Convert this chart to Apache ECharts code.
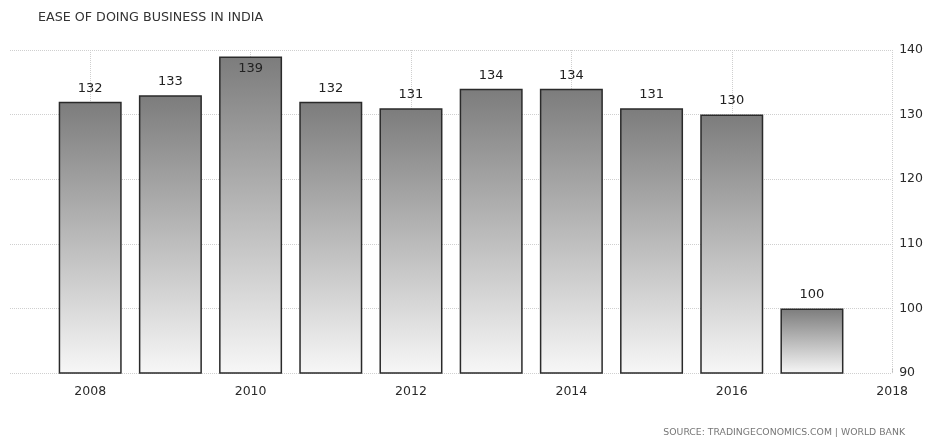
<!DOCTYPE html>
<html>
<head>
<meta charset="utf-8">
<script src="https://cdn.jsdelivr.net/npm/echarts@6/dist/echarts.min.js"></script>
<style>
  html, body { margin: 0; padding: 0; background: #fff; }
  #chart { width: 926px; height: 439px; }
</style>
</head>
<body>
<div id="chart"></div>
<script>
// Ease of Doing Business ranking for India, by year
const years = [2008, 2009, 2010, 2011, 2012, 2013, 2014, 2015, 2016, 2017];
const ranks = [132, 133, 139, 132, 131, 134, 134, 131, 130, 100];
const xTicks = [2008, 2010, 2012, 2014, 2016, 2018];

const FONT = '"DejaVu Sans", Verdana, sans-serif';
const gridColor = '#cfcfcf';

const chart = echarts.init(document.getElementById('chart'), null, { renderer: 'canvas' });

const data = years.map((y, i) => {
  const item = { value: [y, ranks[i]] };
  if (ranks[i] >= 138) {
    item.label = { position: 'insideTop', distance: 6 };
  }
  return item;
});

chart.setOption({
  animation: false,
  backgroundColor: '#fff',
  title: [
    {
      text: 'EASE OF DOING BUSINESS IN INDIA',
      left: 33, top: 6,
      textStyle: { fontFamily: FONT, fontSize: 12.7, fontWeight: 'normal', color: '#333' }
    },
    {
      text: 'SOURCE: TRADINGECONOMICS.COM | WORLD BANK',
      right: 16, top: 423,
      textStyle: { fontFamily: FONT, fontSize: 9.3, fontWeight: 'normal', color: '#777' }
    }
  ],
  grid: { left: 10, right: 33, top: 50, bottom: 66 },
  xAxis: {
    type: 'value',
    min: 2007,
    max: 2018,
    interval: 1,
    axisLine: { show: false },
    axisTick: {
      show: true, length: 5, inside: true,
      customValues: xTicks,
      lineStyle: { color: '#bbb' }
    },
    axisLabel: {
      customValues: xTicks,
      formatter: v => String(v),
      fontFamily: FONT, fontSize: 12.5, color: '#2a2a2a', margin: 12
    },
    splitLine: { show: false }
  },
  yAxis: {
    type: 'value',
    position: 'right',
    min: 90,
    max: 140,
    interval: 10,
    axisLine: { show: false },
    axisTick: { show: false },
    axisLabel: { fontFamily: FONT, fontSize: 12.5, color: '#2a2a2a', margin: 7 },
    splitLine: { show: true, lineStyle: { color: gridColor, type: 'dotted', width: 1 } }
  },
  series: [
    {
      // carries the vertical year gridlines, drawn beneath the bars
      type: 'line',
      data: [],
      z: 1,
      silent: true,
      markLine: {
        silent: true,
        symbol: 'none',
        z: 1,
        label: { show: false },
        lineStyle: { color: gridColor, type: 'dotted', width: 1 },
        data: xTicks.map(v => ({ xAxis: v }))
      }
    },
    {
      type: 'bar',
      barWidth: 63,
      data: data,
      z: 3,
      itemStyle: {
        color: new echarts.graphic.LinearGradient(0, 0, 0, 1, [
          { offset: 0, color: '#7c7c7c' },
          { offset: 1, color: '#f7f7f7' }
        ]),
        borderColor: '#2a2a2a',
        borderWidth: 1.5
      },
      label: {
        show: true,
        position: 'top',
        distance: 7,
        fontFamily: FONT,
        fontSize: 13,
        color: '#222',
        formatter: p => String(p.value[1])
      }
    }
  ]
});
</script>
</body>
</html>
